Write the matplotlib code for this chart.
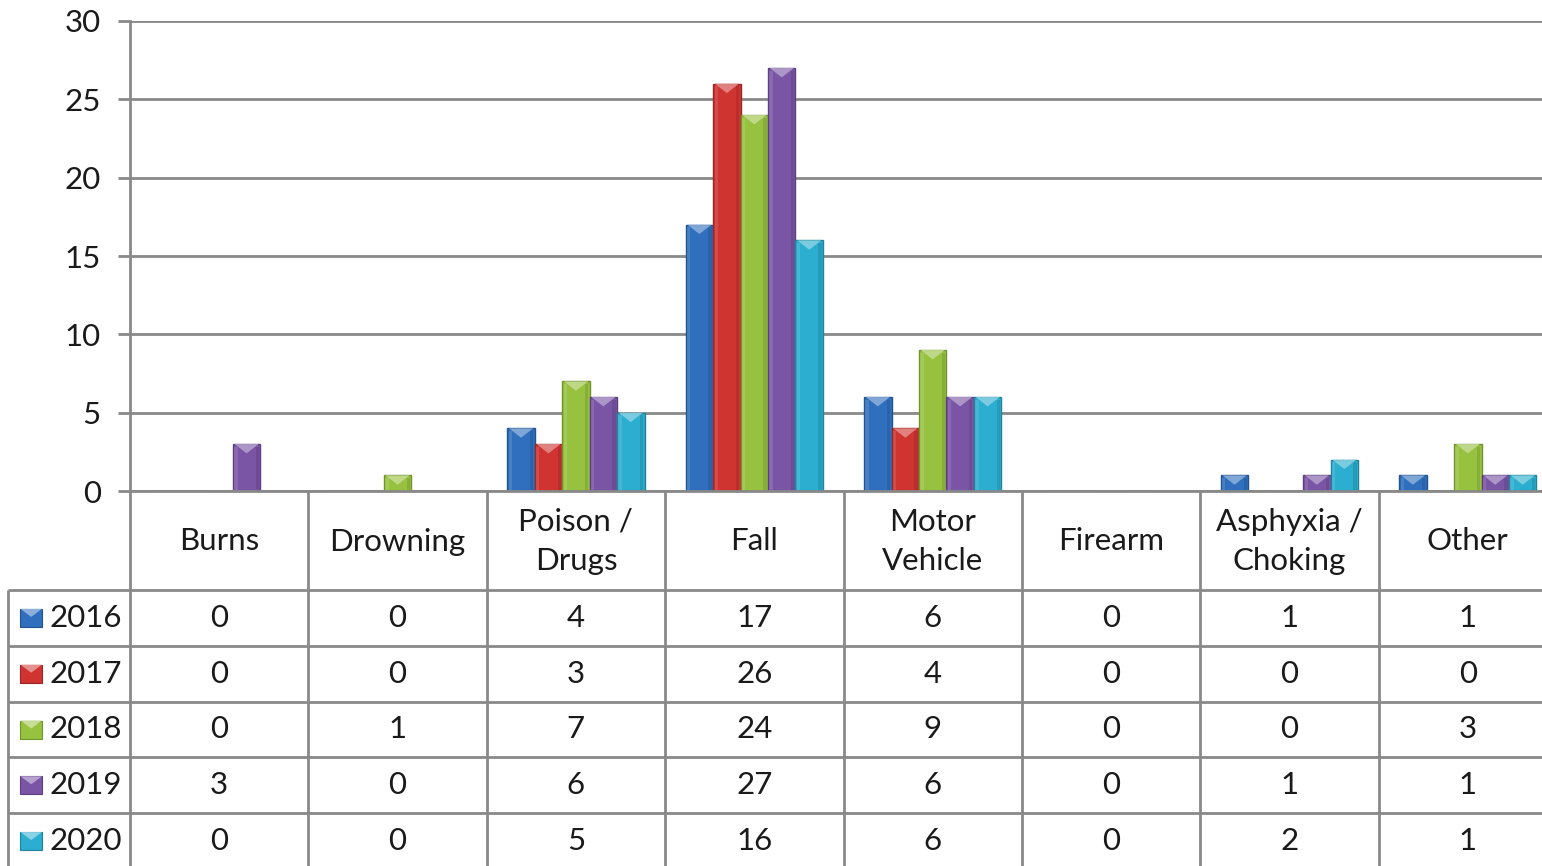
import matplotlib
matplotlib.use("Agg")
import matplotlib.pyplot as plt
from matplotlib.patches import Polygon, Rectangle
import matplotlib.colors as mcolors

categories = ["Burns", "Drowning", "Poison /\nDrugs", "Fall", "Motor\nVehicle",
              "Firearm", "Asphyxia /\nChoking", "Other"]
years = ["2016", "2017", "2018", "2019", "2020"]
v2016 = [0, 0, 4, 17, 6, 0, 1, 1]
v2017 = [0, 0, 3, 26, 4, 0, 0, 0]
v2018 = [0, 1, 7, 24, 9, 0, 0, 3]
v2019 = [3, 0, 6, 27, 6, 0, 1, 1]
v2020 = [0, 0, 5, 16, 6, 0, 2, 1]
series = [v2016, v2017, v2018, v2019, v2020]
yticks = [0, 5, 10, 15, 20, 25, 30]

colors = ["#2F6FBD", "#CF3431", "#97C23F", "#7A55A6", "#2BAECF"]

plt.rcParams['font.family'] = ['Lato', 'DejaVu Sans']

W, H = 1542, 866
fig = plt.figure(figsize=(W / 100, H / 100), dpi=100)

def fx(px):
    return px / W

def fy(py):
    return 1 - py / H

grid_c = "#898989"
line_w = 2.0
fs = 22.5
txt_c = "#1a1a1a"

# plot area
x0, x1 = 130, 1557
ytop, ybot = 21, 491
ax = fig.add_axes([fx(x0), fy(ybot), fx(x1) - fx(x0), fy(ytop) - fy(ybot)])
n = len(categories)
ax.set_xlim(-0.5, n - 0.5)
ax.set_ylim(0, 30)
ax.set_yticks(yticks)
ax.set_yticklabels([str(t) for t in yticks], fontsize=fs, color=txt_c)
ax.tick_params(axis='y', length=9, width=line_w, color=grid_c, pad=12)
ax.tick_params(axis='x', length=0, labelbottom=False)
ax.yaxis.grid(True, color=grid_c, linewidth=line_w)
ax.set_axisbelow(True)
for s in ["top", "right", "bottom"]:
    ax.spines[s].set_visible(False)
ax.spines["left"].set_color(grid_c)
ax.spines["left"].set_linewidth(line_w)

nser = len(series)
gap = 1.5
bw = 1.0 / (nser + gap)
for i, (vals, col) in enumerate(zip(series, colors)):
    xs = [k - 0.5 * nser * bw + (i + 0.5) * bw for k in range(n)]
    dark = tuple(c * 0.75 for c in mcolors.to_rgb(col))
    light = tuple(c + (1 - c) * 0.45 for c in mcolors.to_rgb(col))
    bars = ax.bar(xs, vals, width=bw, color=col, edgecolor=dark, linewidth=1.0, zorder=3)
    # bevel highlight at top of each bar
    for b in bars:
        h = b.get_height()
        if h <= 0:
            continue
        bx, bwid = b.get_x(), b.get_width()
        th = min(0.6, h * 0.6)
        tri = Polygon([(bx + bwid * 0.06, h), (bx + bwid * 0.94, h),
                       (bx + bwid * 0.5, h - th)], closed=True,
                      facecolor=light, edgecolor='none', alpha=0.85, zorder=4)
        ax.add_patch(tri)
        ax.add_patch(Rectangle((bx + bwid * 0.05, 0), bwid * 0.12, h - th * 0.3,
                               facecolor='white', alpha=0.12, edgecolor='none', zorder=4))
        ax.add_patch(Rectangle((bx + bwid * 0.83, 0), bwid * 0.12, h - th * 0.3,
                               facecolor='black', alpha=0.10, edgecolor='none', zorder=4))

# data table
tx0 = 8
header_h = 99
row_h = 55.8
tbottom = ybot + header_h + row_h * nser
tax = fig.add_axes([fx(tx0), fy(tbottom), fx(x1) - fx(tx0), fy(ybot) - fy(tbottom)])
left_units = (x0 - tx0) / ((x1 - x0) / n)
tax.set_xlim(-0.5 - left_units, n - 0.5)
tax.set_ylim(tbottom - ybot, 0)
tax.axis('off')

lk = dict(color=grid_c, linewidth=line_w, solid_capstyle='butt', clip_on=False)
# top line (x-axis) of the header
tax.plot([-0.5, n - 0.5], [0, 0], **lk)
# row lines
for r in range(nser + 1):
    yy = header_h + r * row_h
    tax.plot([-0.5 - left_units, n - 0.5], [yy, yy], **lk)
# vertical lines
tax.plot([-0.5 - left_units] * 2, [header_h, tbottom - ybot], **lk)
for k in range(n + 1):
    tax.plot([k - 0.5] * 2, [0, tbottom - ybot], **lk)

for k, cat in enumerate(categories):
    tax.text(k, header_h / 2 + 1, cat, ha='center', va='center', fontsize=fs,
             linespacing=1.5, color=txt_c)

key_w = 0.12
for r, (yr, vals, col) in enumerate(zip(years, series, colors)):
    yc = header_h + (r + 0.5) * row_h
    for k, v in enumerate(vals):
        tax.text(k, yc, str(v), ha='center', va='center', fontsize=fs, color=txt_c)
    # legend key
    kx = -0.5 - left_units + 0.07
    dark = tuple(c * 0.75 for c in mcolors.to_rgb(col))
    light = tuple(c + (1 - c) * 0.45 for c in mcolors.to_rgb(col))
    tax.add_patch(Rectangle((kx, yc - 9), key_w, 18, facecolor=col, edgecolor=dark,
                            linewidth=0.8, clip_on=False))
    tax.add_patch(Polygon([(kx, yc - 9), (kx + key_w, yc - 9), (kx + key_w / 2, yc - 1)],
                          closed=True, facecolor=light, edgecolor='none', clip_on=False))
    tax.text(kx + key_w + 0.04, yc, yr, ha='left', va='center', fontsize=fs, color=txt_c)

fig.savefig("out.png", dpi=100)
